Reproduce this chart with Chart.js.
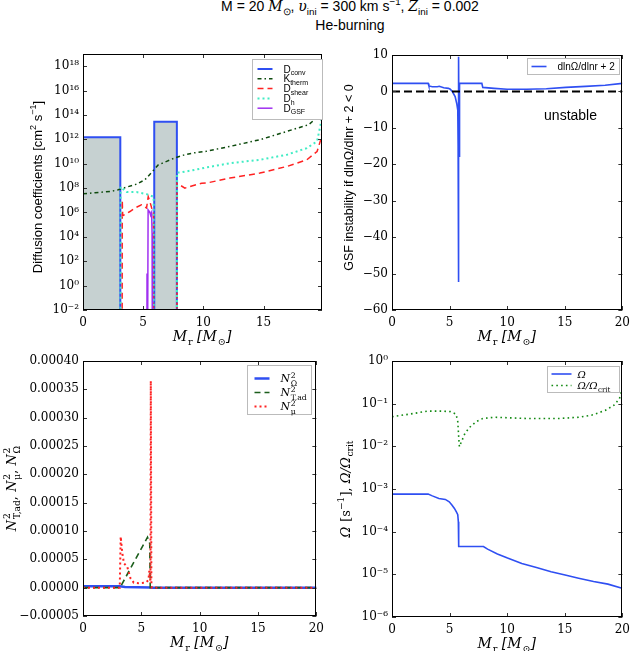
<!DOCTYPE html>
<html><head><meta charset="utf-8">
<script src="https://cdn.jsdelivr.net/npm/chart.js@4.4.0/dist/chart.umd.min.js"></script>
<style>
html,body{margin:0;padding:0;background:#fff;}
body{width:636px;height:651px;position:relative;overflow:hidden;}
canvas{position:absolute;}
#title{position:absolute;left:150px;width:400px;top:-3px;text-align:center;font:14px 'Liberation Sans',Arial,sans-serif;line-height:19px;color:#000;}
#title i{font-family:'DejaVu Serif',serif;}
#title sub,#title sup{font-size:70%;line-height:0;}
</style></head><body>
<div id="title">M = 20 <i>M</i><sub>⊙</sub>, <i>υ</i><sub>ini</sub> = 300 km s<sup>−1</sup>, <i>Z</i><sub>ini</sub> = 0.002<br>He-burning</div>
<canvas id="cTL"></canvas><canvas id="cTR"></canvas><canvas id="cBL"></canvas><canvas id="cBR"></canvas>
<script>
const SERIF = "'DejaVu Serif', serif";
const SANS = "'Liberation Sans', Arial, sans-serif";

// ---------------- tick values and labels ----------------
const xTicksTL = [0, 5, 10, 15];
const xTickLabelsTL = ['0', '5', '10', '15'];
const xTicks = [0, 5, 10, 15, 20];
const xTickLabels = ['0', '5', '10', '15', '20'];
const diffTicks = [1e-2, 1e0, 1e2, 1e4, 1e6, 1e8, 1e10, 1e12, 1e14, 1e16, 1e18];
const diffTickLabels = ['10⁻²', '10⁰', '10²', '10⁴', '10⁶', '10⁸', '10¹⁰', '10¹²', '10¹⁴', '10¹⁶', '10¹⁸'];
const gsfTicks = [-60, -50, -40, -30, -20, -10, 0, 10];
const gsfTickLabels = ['−60', '−50', '−40', '−30', '−20', '−10', '0', '10'];
const bvTicks = [-0.00005, 0, 0.00005, 0.0001, 0.00015, 0.0002, 0.00025, 0.0003, 0.00035, 0.0004];
const bvTickLabels = ['−0.00005', '0.00000', '0.00005', '0.00010', '0.00015', '0.00020', '0.00025', '0.00030', '0.00035', '0.00040'];
const omTicks = [1e-6, 1e-5, 1e-4, 1e-3, 1e-2, 1e-1, 1e0];
const omTickLabels = ['10⁻⁶', '10⁻⁵', '10⁻⁴', '10⁻³', '10⁻²', '10⁻¹', '10⁰'];

// ---------------- top-left: diffusion coefficients ----------------
// values of 1e-6 lie below the plotted range (coefficient absent)
const dConvX = [0, 3.1, 3.1, 5.92, 5.92, 7.8, 7.8, 19.86];
const dConvY = [1.5e12, 1.5e12, 1e-6, 1e-6, 2.8e13, 2.8e13, 1e-6, 1e-6];
const kThermX = [0, 1, 2.23, 2.92, 3.61, 4.45, 5.14, 5.7, 6.25, 6.95, 7.64, 8.47, 9.3, 10.14, 12.2, 14.7, 16.95, 18.75, 19.6, 19.86];
const kThermY = [3.4e7, 4.2e7, 5.2e7, 7.2e7, 1.2e8, 2.1e8, 4.8e8, 1.9e9, 8e9, 1.55e10, 3e10, 5.5e10, 8e10, 1e11, 2.6e11, 9.3e11, 4.5e12, 1.6e13, 8e13, 1.2e15];
const dShearX = [3.25, 3.26, 3.3, 3.9, 4.3, 4.86, 5.28, 5.42, 5.56, 5.64, 5.75, 5.85, 5.86, 7.81, 7.81, 8.47, 8.89, 9.86, 10.42, 12.2, 14.7, 16.95, 18.6, 19.45, 19.8, 19.86];
const dShearY = [1e-6, 1e7, 5.5e5, 1.2e6, 2.3e6, 4.3e6, 2.3e6, 2e7, 8e6, 4e6, 1.6e6, 1e6, 1e-6, 1e-6, 2.5e8, 1e8, 1.35e8, 2.5e8, 2.8e8, 6.6e8, 1.7e9, 6e9, 2.1e10, 1e11, 1.3e12, 5e12];
const dHX = [3.11, 3.12, 3.61, 4.45, 5.28, 5.83, 5.87, 5.88, 7.81, 7.82, 8.06, 9.03, 10.28, 12.2, 14.7, 16.95, 18.6, 19.45, 19.8, 19.86];
const dHY = [1e-6, 1.3e8, 4.7e7, 4.7e7, 3.2e7, 2e7, 2e7, 1e-6, 1e-6, 1.9e9, 1.9e9, 2.8e9, 5e9, 1.1e10, 2.1e10, 5.5e10, 1.9e11, 6.8e11, 3e13, 1e14];
const dGsfX = [5.31, 5.32, 5.33, 5.40, 5.41, 5.45, 5.55, 5.62, 5.70, 5.74, 5.76, 5.77];
const dGsfY = [1e-6, 10, 1e-6, 1e-6, 1.6e6, 1.4e6, 1.1e6, 6e5, 1e6, 2e4, 3e3, 1e-6];

// ---------------- top-right: dlnOmega/dlnr + 2 ----------------
const gsfX = [0, 3.14, 3.2, 3.5, 3.93, 4.1, 4.49, 4.9, 5.06, 5.25, 5.48, 5.62, 5.71, 5.74, 5.76, 5.78, 5.80, 5.82, 5.84, 5.86, 5.89, 7.8, 7.88, 8.87, 10.0, 11.7, 13.4, 15.1, 16.8, 18.5, 20];
const gsfY = [2.2, 2.2, 1.5, 1.3, 1.3, 1.4, 1.0, 0.85, 0.6, -0.1, -1.4, -3.3, -5.1, -15, -52.3, -10, 9.5, -14.7, -18, -5, 2.2, 2.2, 1.1, 0.85, 0.6, 0.6, 0.75, 1.1, 1.4, 1.7, 2.2];
const zeroX = [0, 20];
const zeroY = [0, 0];

// ---------------- bottom-left: Brunt-Vaisala frequencies ----------------
const nOmX = [0, 3.15, 3.6, 5.8, 6.0, 20];
const nOmY = [2.5e-6, 2.5e-6, 1e-6, 5e-7, 0, 0];
const nTadX = [0, 3.17, 5.53, 5.6, 5.72, 5.75, 5.76, 20];
const nTadY = [0, 0, 8.9e-5, 8.5e-5, 7.8e-5, 2e-5, 0, 0];
const nMuX = [0, 3.15, 3.23, 3.37, 3.51, 3.79, 4.07, 4.35, 4.77, 5.34, 5.61, 5.68, 5.78, 5.81, 5.86, 5.9, 20];
const nMuY = [0, 0, 9e-5, 6.1e-5, 4.3e-5, 3.7e-5, 1.65e-5, 8.8e-6, 8e-6, 8.8e-6, 1.3e-5, 3e-5, 1e-5, 3.65e-4, 1e-5, 0, 0];

// ---------------- bottom-right: angular velocity ----------------
const omX = [0, 3.14, 3.5, 4.07, 4.63, 4.97, 5.2, 5.42, 5.59, 5.71, 5.76, 5.79, 5.85, 7.94, 8.3, 9.15, 10.03, 11.27, 12.54, 13.81, 15.03, 16.2, 17.5, 18.75, 19.97];
const omY = [7.6e-4, 7.6e-4, 6.9e-4, 6.0e-4, 5.7e-4, 5.0e-4, 4.2e-4, 3.5e-4, 2.9e-4, 2.5e-4, 1.7e-4, 4.5e-5, 4.5e-5, 4.5e-5, 3.9e-5, 3.0e-5, 2.4e-5, 1.8e-5, 1.44e-5, 1.15e-5, 9.6e-6, 8.1e-6, 6.8e-6, 5.9e-6, 4.7e-6];
const omRatX = [0, 1.53, 3.14, 4.35, 5.06, 5.56, 5.71, 5.79, 5.85, 6.04, 6.33, 6.75, 7.32, 7.88, 8.87, 11.7, 14.5, 16.2, 17.35, 18.5, 19.3, 19.75, 19.97];
const omRatY = [0.0495, 0.057, 0.067, 0.067, 0.065, 0.057, 0.038, 0.017, 0.0098, 0.013, 0.020, 0.028, 0.038, 0.045, 0.048, 0.045, 0.045, 0.048, 0.054, 0.069, 0.093, 0.133, 0.21];

function pts(xs, ys) { return xs.map((x, i) => ({ x: x, y: ys[i] })); }

// ---------------- rich text (sub/superscripts) ----------------
function parseRich(s) {
  const toks = []; let math = false; let i = 0; let buf = '';
  const flush = () => { if (buf) toks.push({ text: buf, kind: 'n', math: math }); buf = ''; };
  while (i < s.length) {
    const c = s[i];
    if (c === '$') { flush(); math = !math; i++; continue; }
    if (c === '^' || c === '_') {
      flush();
      let t;
      if (s[i + 1] === '{') { const j = s.indexOf('}', i + 2); t = s.slice(i + 2, j); i = j + 1; }
      else { t = s[i + 1]; i += 2; }
      toks.push({ text: t, kind: c === '^' ? 'sup' : 'sub', math: math });
      continue;
    }
    buf += c; i++;
  }
  flush();
  return toks;
}
function fontFor(t, size, family) {
  const sz = t.kind === 'n' ? size : size * 0.7;
  const fam = t.math ? SERIF : family;
  return (t.kind === 'n' && t.math ? 'italic ' : '') + sz.toFixed(1) + 'px ' + fam;
}
function drawRich(ctx, str, x, y, o) {
  const size = o.size || 12, family = o.family || SANS;
  const toks = parseRich(str);
  const items = []; let cx = 0;
  for (let k = 0; k < toks.length; k++) {
    const t = toks[k];
    const f = fontFor(t, size, family);
    ctx.font = f;
    const w = ctx.measureText(t.text).width;
    const dy = t.kind === 'sup' ? -0.42 * size : (t.kind === 'sub' ? 0.25 * size : 0);
    items.push({ text: t.text, font: f, x: cx, dy: dy });
    if (t.kind === 'sup' && toks[k + 1] && toks[k + 1].kind === 'sub') {
      const t2 = toks[k + 1]; const f2 = fontFor(t2, size, family);
      ctx.font = f2; const w2 = ctx.measureText(t2.text).width;
      items.push({ text: t2.text, font: f2, x: cx, dy: 0.32 * size });
      cx += Math.max(w, w2); k++; continue;
    }
    cx += w + (t.kind === 'n' && t.math ? 0.06 * size : 0);
  }
  ctx.save();
  ctx.translate(x, y);
  if (o.rotate) ctx.rotate(o.rotate);
  const x0 = o.align === 'left' ? 0 : -cx / 2;
  ctx.fillStyle = o.color || '#000';
  ctx.textBaseline = 'alphabetic'; ctx.textAlign = 'left';
  const base = 0.36 * size;
  for (const it of items) { ctx.font = it.font; ctx.fillText(it.text, x0 + it.x, base + it.dy); }
  ctx.restore();
}

// ---------------- decoration plugin: frame, inward ticks, titles, legend, notes ----------------
const DECOR = {};
const decor = {
  id: 'decor',
  afterDraw(chart) {
    const d = DECOR[chart.canvas.id]; if (!d) return;
    const ctx = chart.ctx, a = chart.chartArea;
    const xs = chart.scales.x, ys = chart.scales.y;
    ctx.save();
    ctx.setLineDash([]);
    ctx.strokeStyle = '#333'; ctx.lineWidth = 1;
    ctx.beginPath();
    xs.ticks.forEach(t => {
      const p = Math.round(xs.getPixelForValue(t.value)) + 0.5;
      ctx.moveTo(p, a.bottom); ctx.lineTo(p, a.bottom - 4);
      ctx.moveTo(p, a.top); ctx.lineTo(p, a.top + 4);
    });
    ys.ticks.forEach(t => {
      const p = Math.round(ys.getPixelForValue(t.value)) + 0.5;
      ctx.moveTo(a.left, p); ctx.lineTo(a.left + 4, p);
      ctx.moveTo(a.right, p); ctx.lineTo(a.right - 4, p);
    });
    ctx.stroke();
    ctx.strokeStyle = '#000';
    ctx.strokeRect(Math.round(a.left) + 0.5, Math.round(a.top) + 0.5, Math.round(a.right - a.left) - 1, Math.round(a.bottom - a.top) - 1);
    // axis titles
    const cxm = (a.left + a.right) / 2, cym = (a.top + a.bottom) / 2;
    drawRich(ctx, d.xTitle.text, cxm, a.bottom + d.xTitle.dy, { size: d.xTitle.size, family: SERIF });
    drawRich(ctx, d.yTitle.text, a.left + d.yTitle.dx, cym + (d.yTitle.dyc || 0), { size: d.yTitle.size, family: d.yTitle.family, rotate: -Math.PI / 2 });
    // notes
    (d.notes || []).forEach(n => {
      drawRich(ctx, n.text, xs.getPixelForValue(n.x), ys.getPixelForValue(n.y), { size: n.size, family: SANS });
    });
    // legend
    const L = d.legend;
    if (L) {
      const bx = Math.round(a.right - L.right - L.w) + 0.5, by = Math.round(a.top + L.top) + 0.5;
      ctx.fillStyle = '#fff'; ctx.fillRect(bx, by, L.w, L.h);
      ctx.strokeStyle = '#bbbbbb'; ctx.lineWidth = 1; ctx.setLineDash([]);
      ctx.strokeRect(bx, by, L.w, L.h);
      L.rows.forEach((idx, r) => {
        const ds = chart.data.datasets[idx];
        const yy = by + L.y0 + r * (L.dy || 0);
        ctx.save();
        ctx.strokeStyle = ds.borderColor; ctx.lineWidth = ds.borderWidth;
        ctx.setLineDash(ds.borderDash || []);
        ctx.beginPath(); ctx.moveTo(bx + L.l0, yy); ctx.lineTo(bx + L.l1, yy); ctx.stroke();
        ctx.restore();
        drawRich(ctx, ds.label, bx + L.tx, yy, { size: L.size, family: SANS, align: 'left' });
      });
    }
    ctx.restore();
  }
};

function makeChart(id, box, plot, cfg) {
  const cv = document.getElementById(id);
  cv.width = box.w; cv.height = box.h;
  cv.style.left = box.l + 'px'; cv.style.top = box.t + 'px';
  cv.style.width = box.w + 'px'; cv.style.height = box.h + 'px';
  const yW = plot.l - box.l, xH = box.t + box.h - plot.b;
  DECOR[id] = cfg.decor;
  const tickFont = { family: SERIF, size: 12 };
  return new Chart(cv, {
    type: 'line',
    data: { datasets: cfg.datasets },
    options: {
      responsive: false, animation: false, devicePixelRatio: 1,
      layout: { padding: { top: plot.t - box.t, right: box.l + box.w - plot.r, left: 0, bottom: 0 } },
      plugins: { legend: { display: false }, tooltip: { enabled: false } },
      elements: { point: { radius: 0 }, line: { tension: 0 } },
      scales: {
        x: {
          type: 'linear', min: cfg.xmin, max: cfg.xmax,
          grid: { display: false, drawTicks: false }, border: { display: false },
          afterBuildTicks: s => { s.ticks = cfg.xTicks.map(v => ({ value: v })); },
          afterFit: s => { s.height = xH; },
          ticks: { autoSkip: false, maxRotation: 0, padding: 6, color: '#000', font: tickFont,
            callback: (v, i) => cfg.xLabels[i] }
        },
        y: {
          type: cfg.ytype, min: cfg.ymin, max: cfg.ymax,
          grid: { display: false, drawTicks: false }, border: { display: false },
          afterBuildTicks: s => { s.ticks = cfg.yTicks.map(v => ({ value: v })); },
          afterFit: s => { s.width = yW; },
          ticks: { autoSkip: false, padding: 4, color: '#000', font: tickFont,
            callback: (v, i) => cfg.yLabels[i] }
        }
      }
    },
    plugins: [decor]
  });
}

const BLUE = '#2f4ff2';

// ---- Top-left ----
makeChart('cTL', { l: 0, t: 36, w: 330, h: 309 }, { l: 83, t: 54, r: 322, b: 310 }, {
  xmin: 0, xmax: 19.86, xTicks: xTicksTL, xLabels: xTickLabelsTL,
  ytype: 'logarithmic', ymin: 1e-2, ymax: 1e19, yTicks: diffTicks, yLabels: diffTickLabels,
  datasets: [
    { label: 'D_{conv}', data: pts(dConvX, dConvY), borderColor: BLUE, borderWidth: 2, fill: 'start', backgroundColor: '#c6d1d1', order: 10 },
    { label: 'K_{therm}', data: pts(kThermX, kThermY), borderColor: '#0d4a0d', borderWidth: 1.5, borderDash: [4, 3, 1.5, 3], fill: false, order: 4 },
    { label: 'D_{shear}', data: pts(dShearX, dShearY), borderColor: '#ff2222', borderWidth: 1.5, borderDash: [6, 4], fill: false, order: 3 },
    { label: 'D_{h}', data: pts(dHX, dHY), borderColor: '#40ecc4', borderWidth: 2, borderDash: [2, 3], fill: false, order: 2 },
    { label: 'D_{GSF}', data: pts(dGsfX, dGsfY), borderColor: '#a030f0', borderWidth: 1.5, fill: false, order: 1 }
  ],
  decor: {
    xTitle: { text: '$M_{r} [M_{⊙}]$', dy: 26, size: 14 },
    yTitle: { text: 'Diffusion coefficients [cm^{2} s^{−1}]', dx: -46, dyc: 5, size: 13, family: SANS },
    legend: { right: 0, top: 5, w: 70, h: 60, rows: [0, 1, 2, 3, 4], y0: 9.5, dy: 9.8, l0: 5, l1: 20, tx: 31, size: 10 }
  }
});

// ---- Top-right ----
makeChart('cTR', { l: 330, t: 36, w: 306, h: 309 }, { l: 392, t: 55, r: 628, b: 310 }, {
  xmin: 0, xmax: 20, xTicks: xTicks, xLabels: xTickLabels,
  ytype: 'linear', ymin: -60, ymax: 10, yTicks: gsfTicks, yLabels: gsfTickLabels,
  datasets: [
    { label: 'dlnΩ/dlnr + 2', data: pts(gsfX, gsfY), borderColor: BLUE, borderWidth: 1.6, fill: false, order: 1 },
    { label: 'zero', data: pts(zeroX, zeroY), borderColor: '#000', borderWidth: 2, borderDash: [8, 4], fill: false, order: 0 }
  ],
  decor: {
    xTitle: { text: '$M_{r} [M_{⊙}]$', dy: 26, size: 14 },
    yTitle: { text: 'GSF instability if dlnΩ/dlnr + 2 < 0', dx: -44, dyc: -5, size: 12.5, family: SANS },
    notes: [{ text: 'unstable', x: 15.5, y: -6.5, size: 14 }],
    legend: { right: 3, top: 3, w: 92, h: 16, rows: [0], y0: 8, dy: 0, l0: 4, l1: 19, tx: 30, size: 10 }
  }
});

// ---- Bottom-left ----
makeChart('cBL', { l: 0, t: 345, w: 330, h: 306 }, { l: 83, t: 361, r: 321, b: 616 }, {
  xmin: 0, xmax: 20, xTicks: xTicks, xLabels: xTickLabels,
  ytype: 'linear', ymin: -0.00005, ymax: 0.0004, yTicks: bvTicks, yLabels: bvTickLabels,
  datasets: [
    { label: '$N^{2}_{Ω}$', data: pts(nOmX, nOmY), borderColor: BLUE, borderWidth: 2.5, fill: false, order: 3 },
    { label: '$N^{2}_{T,ad}$', data: pts(nTadX, nTadY), borderColor: '#1b5e1b', borderWidth: 1.6, borderDash: [6, 4], fill: false, order: 2 },
    { label: '$N^{2}_{μ}$', data: pts(nMuX, nMuY), borderColor: '#ff2222', borderWidth: 2, borderDash: [2, 3], fill: false, order: 1 }
  ],
  decor: {
    xTitle: { text: '$M_{r} [M_{⊙}]$', dy: 26, size: 14 },
    yTitle: { text: '$N^{2}_{T,ad}$, $N^{2}_{μ}$, $N^{2}_{Ω}$', dx: -72, dyc: 0, size: 13, family: SERIF },
    legend: { right: 5, top: 4, w: 64, h: 49, rows: [0, 1, 2], y0: 13, dy: 14, l0: 7, l1: 22, tx: 33, size: 11 }
  }
});

// ---- Bottom-right ----
makeChart('cBR', { l: 330, t: 345, w: 306, h: 306 }, { l: 392, t: 361, r: 628, b: 617 }, {
  xmin: 0, xmax: 20, xTicks: xTicks, xLabels: xTickLabels,
  ytype: 'logarithmic', ymin: 1e-6, ymax: 1, yTicks: omTicks, yLabels: omTickLabels,
  datasets: [
    { label: '$Ω$', data: pts(omX, omY), borderColor: BLUE, borderWidth: 1.6, fill: false, order: 2 },
    { label: '$Ω/Ω_{crit}$', data: pts(omRatX, omRatY), borderColor: '#138a13', borderWidth: 1.6, borderDash: [1.6, 3.2], fill: false, order: 1 }
  ],
  decor: {
    xTitle: { text: '$M_{r} [M_{⊙}]$', dy: 26, size: 14 },
    yTitle: { text: '$Ω$ [s^{−1}], $Ω/Ω_{crit}$', dx: -47, dyc: 0, size: 13, family: SERIF },
    legend: { right: 3, top: 5, w: 72, h: 26, rows: [0, 1], y0: 7.5, dy: 11.5, l0: 4, l1: 24, tx: 30, size: 10 }
  }
});
</script>
</body></html>
